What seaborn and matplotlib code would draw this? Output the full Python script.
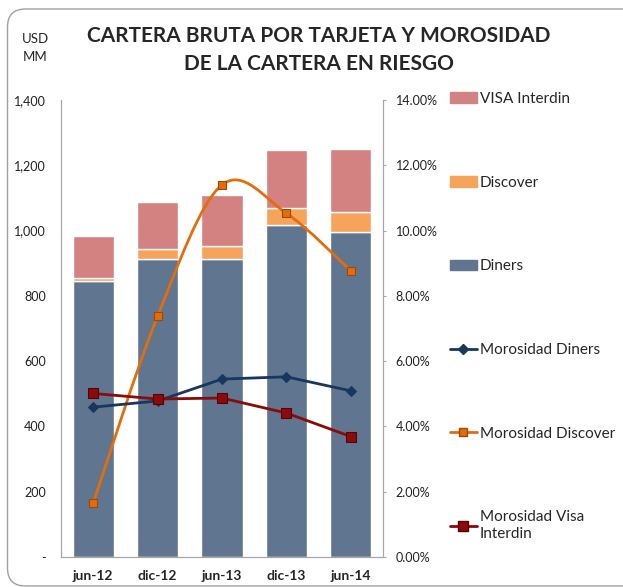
import numpy as np
import matplotlib
matplotlib.use("Agg")
import matplotlib.pyplot as plt
import seaborn as sns
from matplotlib.patches import Patch, FancyBboxPatch, PathPatch
from matplotlib.lines import Line2D
from matplotlib.path import Path
import matplotlib.transforms as mtransforms

periods = ["jun-12", "dic-12", "jun-13", "dic-13", "jun-14"]
diners = np.array([846, 913, 913, 1017, 997])
discover = np.array([8, 30, 40, 52, 61])
visa = np.array([130, 144, 156, 179, 192])
mora_diners = np.array([4.59, 4.78, 5.45, 5.52, 5.09])
mora_discover = np.array([1.65, 7.38, 11.40, 10.53, 8.77])
mora_visa = np.array([5.01, 4.84, 4.87, 4.41, 3.69])

c_diners = "#607590"
c_discover = "#F6A35B"
c_visa = "#D48182"
c_mdiners = "#17375E"
c_mdiscover = "#E46C0A"
c_mvisa = "#8B0A0A"
grey = "#A6A6A6"

sns.set_style("white")
plt.rcParams["font.family"] = ["Lato", "DejaVu Sans"]

fig = plt.figure(figsize=(6.23, 5.87), dpi=100)
ax = fig.add_axes([61 / 623, 30 / 587, 322 / 623, 457 / 587])

# stacked bars
sns.barplot(x=periods, y=diners, color=c_diners, width=0.64, ax=ax, saturation=1)
sns.barplot(x=periods, y=discover, bottom=diners, color=c_discover, width=0.64, ax=ax, saturation=1)
sns.barplot(x=periods, y=visa, bottom=diners + discover, color=c_visa, width=0.64, ax=ax, saturation=1)

ax.set_xlim(-0.5, len(periods) - 0.5)
ax.set_ylim(0, 1400)
ax.set_yticks(range(0, 1401, 200))
ax.set_yticklabels(["-" if v == 0 else f"{v:,}" for v in range(0, 1401, 200)])
ax.tick_params(axis="y", length=0, pad=11, labelsize=9, colors="#222222")
ax.tick_params(axis="x", length=0, pad=9, labelsize=10)
for lab in ax.get_xticklabels():
    lab.set_fontweight("bold")
ax.set_xlabel("")
ax.set_ylabel("")
for s in ["left", "bottom", "right"]:
    ax.spines[s].set_color(grey)
ax.spines["top"].set_visible(False)

# morosidad lines on right axis
ax2 = ax.twinx()
pos = np.arange(len(periods))
ax2.set_ylim(0, 14)
ax2.set_yticks(np.arange(0, 14.1, 2))
ax2.set_yticklabels([f"{v:.2f}%" for v in np.arange(0, 14.1, 2)])
ax2.tick_params(axis="y", length=2, pad=7, labelsize=9, colors="#222222")
ax2.tick_params(axis="y", color=grey)
for s in ["left", "bottom", "right"]:
    ax2.spines[s].set_color(grey)
ax2.spines["top"].set_visible(False)

sns.lineplot(x=pos, y=mora_diners, color=c_mdiners, lw=2, marker="D",
             markersize=5.5, markeredgecolor=c_mdiners, ax=ax2)

# smoothed line like Excel (Bezier through the data points)
pts = np.column_stack([pos, mora_discover])
ext = np.vstack([pts[0], pts, pts[-1]])
verts = [pts[0]]
codes = [Path.MOVETO]
for i in range(len(pts) - 1):
    p0, p1, p2, p3 = ext[i], ext[i + 1], ext[i + 2], ext[i + 3]
    verts += [p1 + (p2 - p0) / 6, p2 - (p3 - p1) / 6, p2]
    codes += [Path.CURVE4] * 3
ax2.add_patch(PathPatch(Path(verts, codes), fill=False, edgecolor=c_mdiscover, lw=2))
sns.scatterplot(x=pos, y=mora_discover, color=c_mdiscover, marker="s", s=40,
                edgecolor="#9C4A06", linewidth=0.8, ax=ax2, zorder=3)

sns.lineplot(x=pos, y=mora_visa, color=c_mvisa, lw=2, marker="s",
             markersize=7, markeredgecolor="#5A0000", ax=ax2)
ax2.set_xlim(-0.5, len(periods) - 0.5)
ax2.set_ylabel("")

# titles
fig.text(319 / 623, 1 - 50 / 587, "CARTERA BRUTA POR TARJETA Y MOROSIDAD\nDE LA CARTERA EN RIESGO",
         ha="center", va="center", fontsize=15, fontweight="bold", linespacing=1.45)
fig.text(35 / 623, 1 - 48 / 587, "USD\nMM", ha="center", va="center", fontsize=9.5,
         linespacing=1.6)

# legend
handles = [
    Patch(color=c_visa),
    Patch(color=c_discover),
    Patch(color=c_diners),
    Line2D([], [], color=c_mdiners, lw=2, marker="D", markersize=5.5),
    Line2D([], [], color=c_mdiscover, lw=2, marker="s", markersize=6, markeredgecolor="#9C4A06"),
    Line2D([], [], color=c_mvisa, lw=2, marker="s", markersize=7, markeredgecolor="#5A0000"),
]
labels = ["VISA Interdin", "Discover", "Diners", "Morosidad Diners",
          "Morosidad Discover", "Morosidad Visa\nInterdin"]
fig.legend(handles, labels, loc="upper left", bbox_to_anchor=(450 / 623, 1 - 92 / 587),
           frameon=False, fontsize=11, handlelength=1.75, handletextpad=0.2,
           labelspacing=4.56, borderpad=0, borderaxespad=0)

# rounded chart border
border = FancyBboxPatch((7.5, 1), 700, 577, boxstyle="round,pad=0,rounding_size=18",
                        transform=mtransforms.IdentityTransform(), fill=False,
                        edgecolor="#A0A0A0", lw=1)
fig.add_artist(border)

fig.savefig("out.png", dpi=100)
